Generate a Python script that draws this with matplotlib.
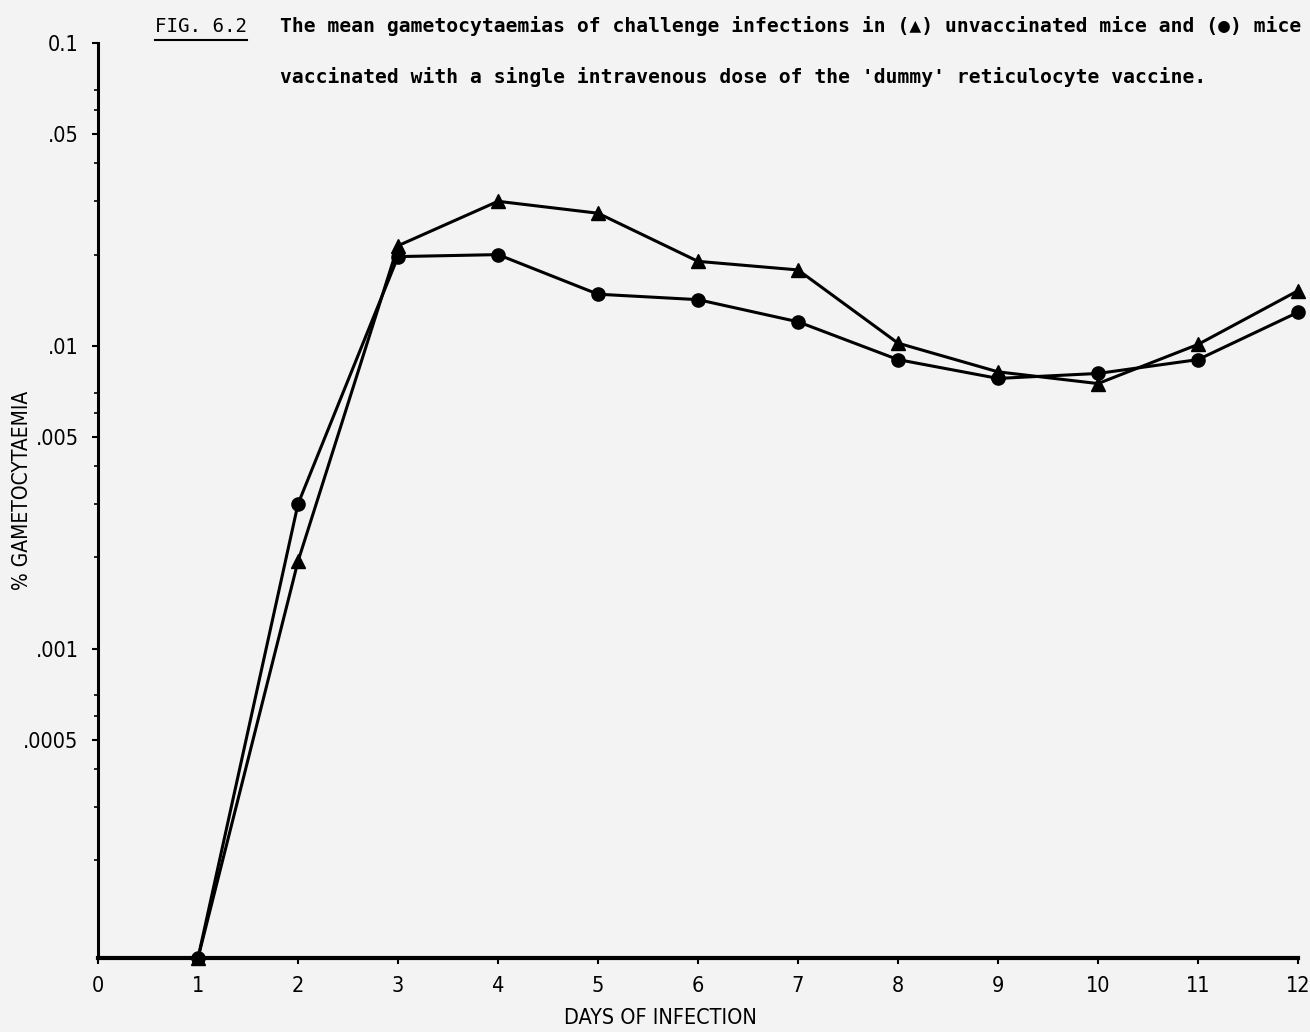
import numpy as np
import matplotlib.pyplot as plt
from matplotlib.ticker import FixedLocator, NullFormatter
from matplotlib.lines import Line2D

# valores (% gametocitemia); dia 1 = 0 (fica no eixo)
dias = [1, 2, 3, 4, 5, 6, 7, 8, 9, 10, 11, 12]
nao_vacinados = [0, 0.00194, 0.0214, 0.0300, 0.0274, 0.0190, 0.0178, 0.0102, 0.0082, 0.0075, 0.0101, 0.0152]
vacinados = [0, 0.0030, 0.0197, 0.0200, 0.0148, 0.0142, 0.0120, 0.0090, 0.0078, 0.0081, 0.0090, 0.0129]

y_ticks = [0.1, 0.05, 0.01, 0.005, 0.001, 0.0005]
y_labels = ["0.1", ".05", ".01", ".005", ".001", ".0005"]
x_ticks = list(range(0, 13))

YMIN = 9.5e-5
fundo = '#f3f3f3'
fonte = ['DejaVu Sans']
mono = ['DejaVu Sans Mono', 'DejaVu Sans']

fig = plt.figure(figsize=(13.1, 10.32), dpi=100, facecolor=fundo)
ax = fig.add_axes([98 / 1310, 1 - 958 / 1032, 1200 / 1310, (958 - 43) / 1032])
ax.set_facecolor(fundo)

def piso(v):
    # zero não existe em escala log -> desenha na base do eixo
    return np.where(np.array(v) <= 0, YMIN, v)

ax.plot(dias, piso(nao_vacinados), '-^', color='black', lw=2.2, ms=10, clip_on=False, zorder=3)
ax.plot(dias, piso(vacinados), '-o', color='black', lw=2.2, ms=9.5, clip_on=False, zorder=3)

ax.set_yscale('log')
ax.set_ylim(YMIN, 0.1)
ax.set_xlim(0, 12)

ax.yaxis.set_major_locator(FixedLocator(y_ticks))
ax.set_yticklabels(y_labels)
minors = [m * d for d in [1e-4, 1e-3, 1e-2] for m in (2, 3, 4, 6, 7)]
ax.yaxis.set_minor_locator(FixedLocator(minors))
ax.yaxis.set_minor_formatter(NullFormatter())
ax.tick_params(axis='y', which='major', length=4, width=1.5, pad=10, labelsize=15.5)
ax.tick_params(axis='y', which='minor', length=3, width=1.2)

ax.set_xticks(x_ticks)
ax.set_xticklabels([str(d) for d in x_ticks])
ax.tick_params(axis='x', length=4, width=1.5, pad=9, labelsize=15.5)
for lab in ax.get_xticklabels() + ax.get_yticklabels():
    lab.set_family(fonte)
    lab.set_stretch('condensed')

for s in ['top', 'right']:
    ax.spines[s].set_visible(False)
ax.spines['left'].set_linewidth(2.2)
ax.spines['bottom'].set_linewidth(3)

fig.text(22 / 1310, 1 - 490 / 1032, '% GAMETOCYTAEMIA', rotation=90, ha='center', va='center',
         fontsize=15, family=fonte, fontstretch='condensed')
fig.text(660 / 1310, 1 - 1018 / 1032, 'DAYS OF INFECTION', ha='center', va='center',
         fontsize=15.5, family=fonte, fontstretch='condensed')

# legenda/título no estilo da tese
fig.text(155 / 1310, 1 - 26 / 1032, 'FIG. 6.2', ha='left', va='center', fontsize=13.8,
         family=mono)
fig.add_artist(Line2D([155 / 1310, 247 / 1310], [1 - 40 / 1032, 1 - 40 / 1032],
                      transform=fig.transFigure, color='black', lw=1.5))
fig.text(280 / 1310, 1 - 26 / 1032,
         "The mean gametocytaemias of challenge infections in (\u25b2) unvaccinated mice and (\u25cf) mice",
         ha='left', va='center', fontsize=14.1, family=mono, fontweight='bold')
fig.text(280 / 1310, 1 - 77 / 1032,
         "vaccinated with a single intravenous dose of the 'dummy' reticulocyte vaccine.",
         ha='left', va='center', fontsize=14.1, family=mono, fontweight='bold')

fig.savefig('out.png', dpi=100, facecolor=fundo)
